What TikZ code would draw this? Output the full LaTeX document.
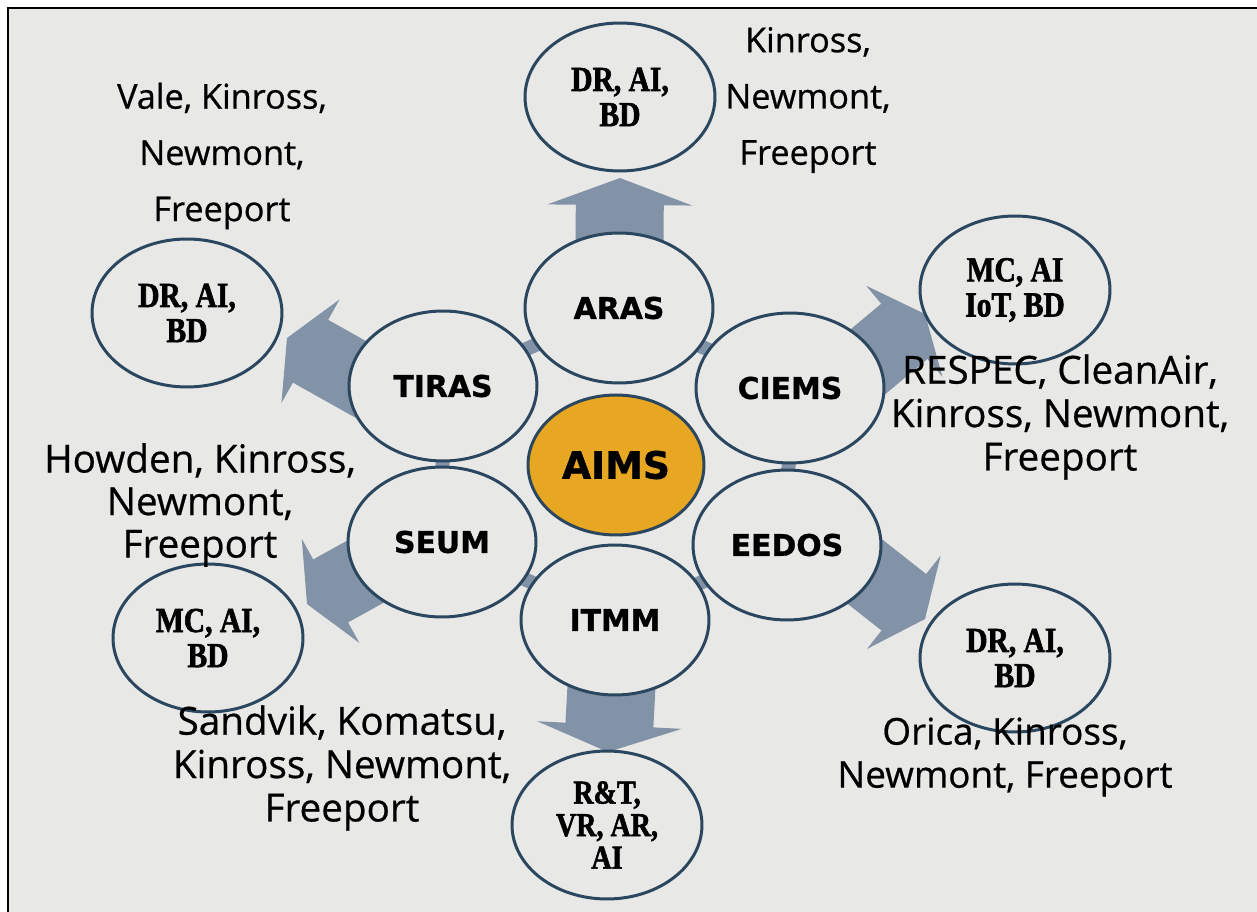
\documentclass[tikz,border=0pt]{standalone}
\usepackage{fontspec}
\setmainfont{Open Sans}[FakeBold=0.6]
\newfontfamily\headfont{DejaVu Sans}[BoldFeatures={FakeBold=1}]
\newfontfamily\techfont{Liberation Serif}[FakeStretch=0.84, BoldFeatures={FakeBold=1.6}]
\usetikzlibrary{positioning,shapes,arrows.meta,backgrounds}
\definecolor{paper}{HTML}{E8E8E6}
\definecolor{ringblue}{HTML}{2B465F}
\definecolor{gold}{HTML}{E8A722}
\definecolor{slate}{HTML}{8292A7}
\tikzstyle{hub} = [ellipse, draw=ringblue, line width=1.7pt, fill=gold, minimum width=3.52cm, minimum height=2.8cm, font=\headfont\bfseries\fontsize{21.5}{24}\selectfont]
\tikzstyle{lab} = [ellipse, draw=ringblue, line width=1.7pt, fill=paper, minimum width=3.76cm, minimum height=3cm, font=\headfont\bfseries\fontsize{17}{20}\selectfont]
\tikzstyle{tech} = [ellipse, draw=ringblue, line width=1.7pt, fill=paper, minimum width=3.8cm, minimum height=2.96cm, inner sep=0pt, align=center, font=\techfont\bfseries\fontsize{20}{20}\selectfont]
\tikzstyle{partners} = [align=center, inner sep=0pt, font=\fontsize{21}{24.5}\selectfont]
\tikzstyle{link} = [slate, line width=0.28cm]
\tikzstyle{push} = [slate, line width=1.76cm, -{Triangle[width=2.88cm,length=0.54cm]}]
\tikzstyle{pushside} = [slate, line width=1.44cm, shorten <=-0.6cm, -{Triangle[width=2.36cm,length=0.54cm]}]

\begin{document}
\begin{tikzpicture}[x=0.02cm, y=-0.02cm]
			\useasboundingbox (0,0) rectangle (1257,912);
			% inner ring
			\node (aims) [hub] at (616,465) {AIMS};
			\node (aras) [lab] at (619,308) {ARAS};
			\node (ciems) [lab] at (790,388) {CIEMS};
			\node (eedos) [lab] at (787,545) {EEDOS};
			\node (itmm) [lab] at (615,620) {ITMM};
			\node (seum) [lab] at (442,542) {SEUM};
			\node (tiras) [lab] at (443,386) {TIRAS};
			% outer ring
			\node (techN) [tech] at (620,97) {DR, AI,\\BD};
			\node (techNE) [tech] at (1015,290) {MC, AI\\IoT, BD};
			\node (techSE) [tech] at (1015,658) {DR, AI,\\BD};
			\node (techS) [tech, font=\techfont\bfseries\fontsize{19}{18.5}\selectfont] at (607,825) {R\&T,\\VR, AR,\\AI};
			\node (techSW) [tech] at (208,638) {MC, AI,\\BD};
			\node (techNW) [tech] at (187,313) {DR, AI,\\BD};
			% partners
			\node (partNW) [partners, font=\fontsize{19.5}{32}\selectfont] at (222,156) {Vale, Kinross,\\Newmont,\\Freeport};
			\node (partN) [partners, font=\fontsize{19.5}{32}\selectfont] at (808,100) {Kinross,\\Newmont,\\Freeport};
			\node (partE) [partners, font=\fontsize{22}{24.7}\selectfont] at (1060,417) {RESPEC, CleanAir,\\Kinross, Newmont,\\Freeport};
			\node (partW) [partners, font=\fontsize{22}{24.2}\selectfont] at (200,505) {Howden, Kinross,\\Newmont,\\Freeport};
			\node (partSE) [partners] at (1005,757) {Orica, Kinross,\\Newmont, Freeport};
			\node (partSW) [partners, font=\fontsize{22}{24.7}\selectfont] at (342,768) {Sandvik, Komatsu,\\Kinross, Newmont,\\Freeport};
			% arrow tips
			\coordinate (tipN) at (620,178);
			\coordinate (tipS) at (608,752);
			\coordinate (tipNE) at (925,314);
			\coordinate (tipSE) at (925,619);
			\coordinate (tipSW) at (307,604);
			\coordinate (tipNW) at (287,338);

			\begin{scope}[on background layer]
			\fill[white] (0,0) rectangle (1257,912);
			\fill[paper] (8,8) rectangle (1257,912);
			\draw[line width=1.7pt] (8,912) -- (8,8) -- (1257,8);
			\draw [link] (aras.center) -- (ciems.center) -- (eedos.center) -- (itmm.center) -- (seum.center) -- (tiras.center) -- cycle;
			\draw [push] (aras.center) -- (tipN);
			\draw [push] (itmm.center) -- (tipS);
			\draw [pushside] (ciems.21) -- (tipNE);
			\draw [pushside] (eedos.-21) -- (tipSE);
			\draw [pushside] (seum.202) -- (tipSW);
			\draw [pushside] (tiras.172) -- (tipNW);
			\end{scope}
\end{tikzpicture}
\end{document}
